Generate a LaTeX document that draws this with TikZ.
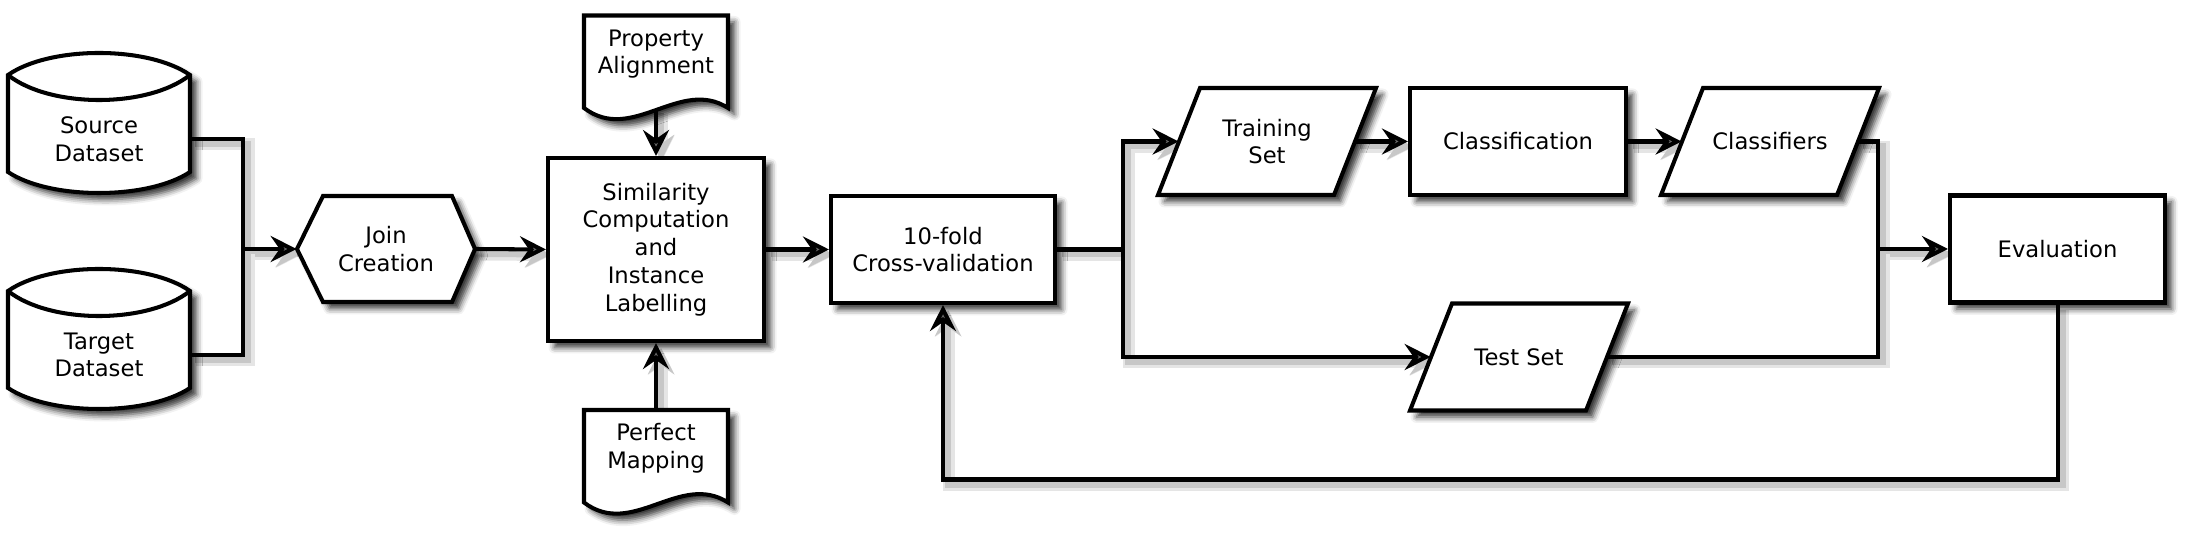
\documentclass[tikz,border=0pt]{standalone}
\usepackage{fontspec}
\setmainfont{DejaVu Sans}
\usetikzlibrary{arrows.meta,shadows.blur,backgrounds}

% cylinder drawn round a centre point
\newcommand{\dbcan}[1]{%
  \begin{scope}[shift={#1}]
    \draw[outline] (-1.82,1.28) .. controls (-0.98,1.867) and (0.98,1.867) .. (1.82,1.28)
      -- (1.82,-0.66) .. controls (0.98,-1.22) and (-0.98,-1.22) .. (-1.82,-0.66) -- cycle;
    \draw[line width=2.3pt] (-1.82,1.28) .. controls (-0.98,0.613) and (0.98,0.613) .. (1.82,1.28);
  \end{scope}}

% document sheet hanging from its top centre
\newcommand{\docsheet}[1]{%
  \begin{scope}[shift={#1}]
    \draw[outline] (-1.44,0) -- (1.44,0) -- (1.44,-1.85)
      .. controls (0.48,-1.23) and (-0.48,-2.58) .. (-1.44,-1.85) -- cycle;
  \end{scope}}

% slanted data box round a centre point
\newcommand{\slab}[1]{%
  \begin{scope}[shift={#1}]
    \draw[outline] (-1.34,1.07) -- (2.18,1.07) -- (1.34,-1.07) -- (-2.18,-1.07) -- cycle;
  \end{scope}}

\begin{document}
\begin{tikzpicture}[
  font=\fontsize{12.9}{15.8}\selectfont,
  outline/.style={draw, line width=2.3pt, fill=white,
    blur shadow={shadow xshift=0.13cm, shadow yshift=-0.13cm, shadow blur radius=0.12cm, shadow opacity=80}},
  textonly/.style={inner sep=0pt, align=center},
  plain/.style={outline, rectangle, align=center, minimum height=2.14cm},
  dataset/.style={textonly, minimum width=3.52cm, minimum height=2.14cm},
  flow/.style={line width=2.3pt, -{Stealth[length=0.52cm,width=0.52cm,inset=0.18cm]},
    preaction={draw=black!10, line width=0.24cm, transform canvas={shift={(0.11cm,-0.11cm)}}},
    preaction={draw=black!22, line width=0.12cm, transform canvas={shift={(0.1cm,-0.1cm)}}}}
]
\useasboundingbox (0,0) rectangle (43.8,10.8);

% inputs
\dbcan{(1.98,8.02)}
\node[textonly, minimum width=3.64cm] (src) at (1.98,8.02) {Source\\Dataset};
\dbcan{(1.98,3.7)}
\node[textonly, minimum width=3.64cm] (tgt) at (1.98,3.7) {Target\\Dataset};
\coordinate (merge) at (4.86,5.82);

\draw[outline] (5.94,5.82) -- (6.46,6.88) -- (9.04,6.88) -- (9.5,5.82) -- (9.04,4.76) -- (6.46,4.76) -- cycle;
\node[textonly, minimum width=3.56cm, minimum height=2.14cm] (join) at (7.72,5.82) {Join\\Creation};

\docsheet{(13.12,10.49)}
\node[textonly, minimum height=2.16cm] (pa) at (13.12,9.72) {Property\\Alignment};
\docsheet{(13.12,2.6)}
\node[textonly, minimum height=1.54cm] (pm) at (13.12,1.83) {Perfect\\Mapping};

\node[plain, minimum width=4.32cm, minimum height=3.66cm] (sim) at (13.12,5.81) {Similarity\\Computation\\and\\Instance\\Labelling};
\node[plain, minimum width=4.48cm] (cv) at (18.86,5.81) {10-fold\\Cross-validation};

% learning part
\slab{(25.34,7.97)}
\node[dataset] (tr) at (25.34,7.97) {Training\\Set};
\node[plain, minimum width=4.32cm] (cl) at (30.36,7.97) {Classification};
\slab{(35.4,7.97)}
\node[dataset] (cf) at (35.4,7.97) {Classifiers};
\slab{(30.38,3.66)}
\node[dataset] (ts) at (30.38,3.66) {Test Set};
\node[plain, minimum width=4.3cm] (ev) at (41.15,5.82) {Evaluation};
\coordinate (split) at (22.46,5.81);
\coordinate (collect) at (37.56,5.82);

\begin{scope}[on background layer]
\draw[flow] (src.east) -| (merge) -- (join.west);
\draw[flow, -] (tgt.east) -| (merge);
\draw[flow] (join.east) -- (sim.west);
\draw[flow] (pa.south) -- (sim.north);
\draw[flow] (pm.north) -- (sim.south);
\draw[flow] (sim.east) -- (cv.west);
\draw[flow] (cv.east) -- (split) |- (tr.west);
\draw[flow] (split) |- (ts.west);
\draw[flow] (tr.east) -- (cl.west);
\draw[flow] (cl.east) -- (cf.west);
\draw[flow] (cf.east) -| (collect) -- (ev.west);
\draw[flow, -] (ts.east) -| (collect);
\draw[flow] (ev.south) -- ++(0,-3.5) -| (cv.south);
\end{scope}
\end{tikzpicture}
\end{document}
